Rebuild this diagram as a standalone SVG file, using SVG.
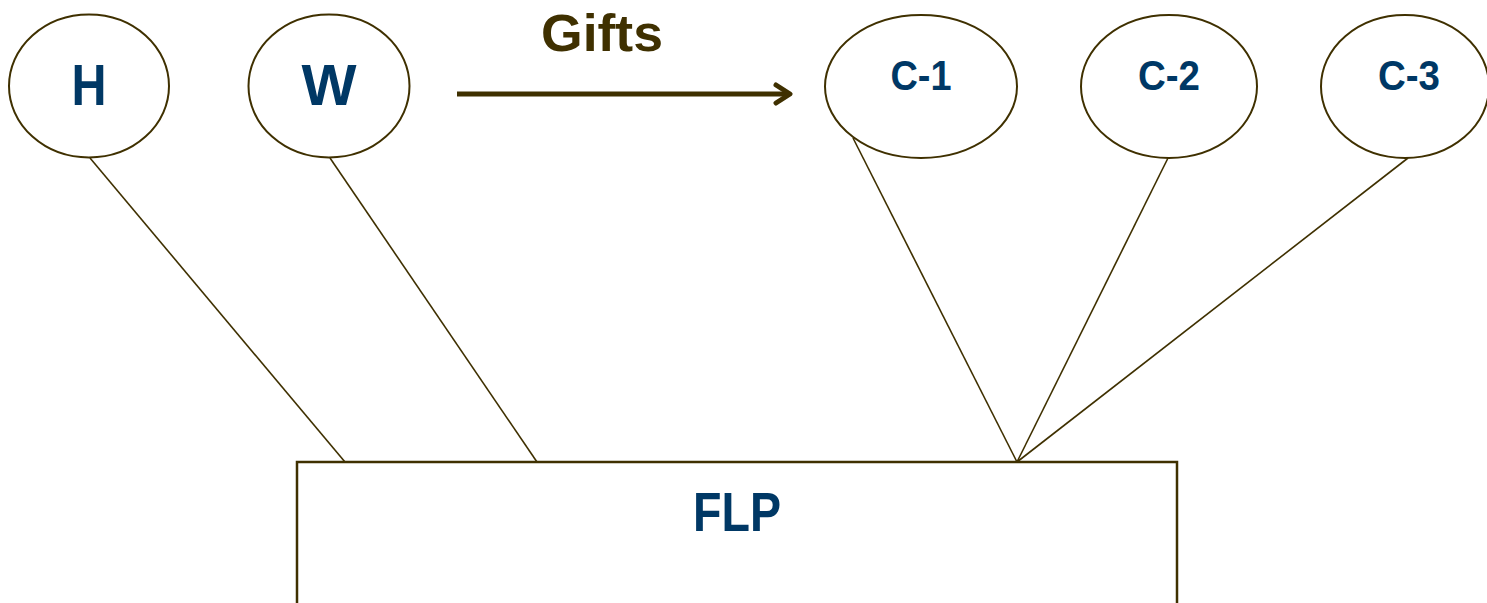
<svg xmlns="http://www.w3.org/2000/svg" width="1487" height="603" viewBox="0 0 1487 603">
  <style>
    .node { fill: #ffffff; stroke: #3f3000; stroke-width: 2; }
    .box { fill: #ffffff; stroke: #3f3000; stroke-width: 2.5; }
    .link { stroke: #3f3000; stroke-width: 1.6; fill: none; }
    .label { font-family: "Liberation Sans", Arial, sans-serif; font-weight: bold; fill: #003865; text-anchor: middle; }
    .gift { font-family: "Liberation Sans", Arial, sans-serif; font-weight: bold; fill: #3f3000; text-anchor: middle; }
  </style>
  <defs>
    <marker id="chevron" viewBox="0 0 20 24" refX="17" refY="12" markerWidth="20" markerHeight="24" markerUnits="userSpaceOnUse" orient="auto">
      <polyline points="3,3 17,12 3,21" fill="none" stroke="#3f3000" stroke-width="5" stroke-linecap="round" stroke-linejoin="round"/>
    </marker>
  </defs>

  <rect width="1487" height="603" fill="#ffffff"/>

  <!-- connectors from persons to the partnership -->
  <g id="connectors">
    <line class="link" x1="90" y1="158" x2="345" y2="462"/>
    <line class="link" x1="330" y1="158" x2="537" y2="462"/>
    <line class="link" x1="853" y1="138" x2="1017" y2="462"/>
    <line class="link" x1="1168" y1="158" x2="1017" y2="462"/>
    <line class="link" x1="1408" y1="158" x2="1017" y2="462"/>
    <line x1="457" y1="94" x2="790" y2="94" stroke="#3f3000" stroke-width="5" marker-end="url(#chevron)"/>
  </g>

  <g id="gifts-label">
    <text class="gift" x="602" y="51" font-size="52" textLength="122" lengthAdjust="spacingAndGlyphs">Gifts</text>
  </g>

  <g id="node-h">
    <ellipse class="node" cx="89" cy="86" rx="80" ry="71.5"/>
    <text class="label" x="89" y="105" font-size="58" textLength="35" lengthAdjust="spacingAndGlyphs">H</text>
  </g>
  <g id="node-w">
    <ellipse class="node" cx="329" cy="86" rx="80.5" ry="71.5"/>
    <text class="label" x="329" y="105" font-size="58" textLength="55" lengthAdjust="spacingAndGlyphs">W</text>
  </g>
  <g id="node-c1">
    <ellipse class="node" cx="921" cy="86.5" rx="96" ry="71.5"/>
    <text class="label" x="921" y="90" font-size="42" textLength="61" lengthAdjust="spacingAndGlyphs">C-1</text>
  </g>
  <g id="node-c2">
    <ellipse class="node" cx="1169" cy="86.5" rx="88" ry="71.5"/>
    <text class="label" x="1169" y="90" font-size="42" textLength="62" lengthAdjust="spacingAndGlyphs">C-2</text>
  </g>
  <g id="node-c3">
    <ellipse class="node" cx="1405" cy="86.5" rx="84" ry="71.5"/>
    <text class="label" x="1409" y="90" font-size="42" textLength="62" lengthAdjust="spacingAndGlyphs">C-3</text>
  </g>
  <g id="node-flp">
    <rect class="box" x="297" y="462" width="880" height="160"/>
    <text class="label" x="737" y="531" font-size="56" textLength="88" lengthAdjust="spacingAndGlyphs">FLP</text>
  </g>
</svg>
